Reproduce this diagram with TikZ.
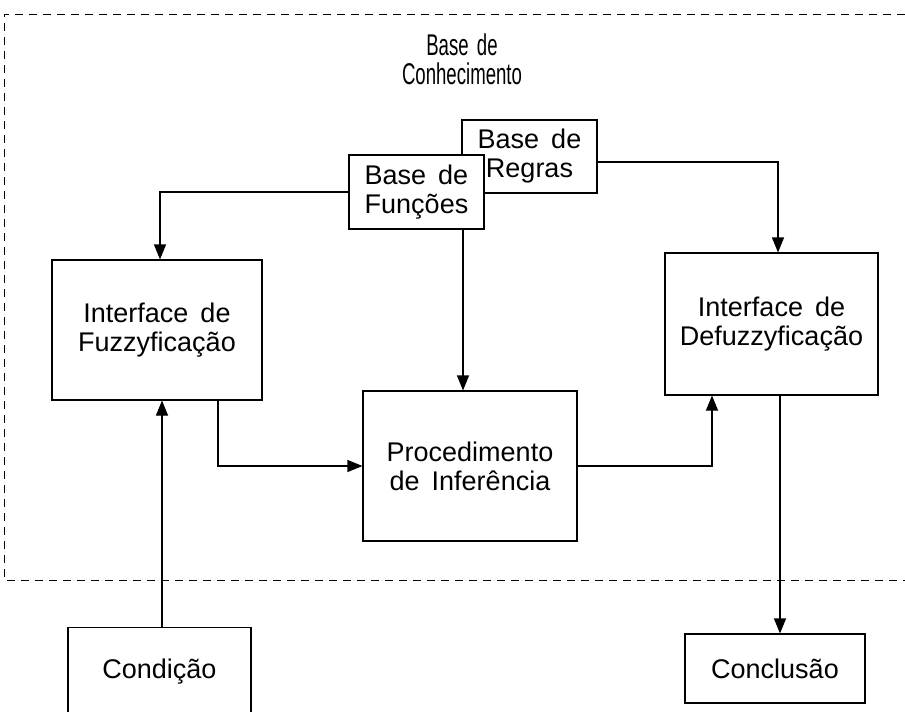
\documentclass[tikz,border=0pt]{standalone}
\usepackage{fontspec}
\usepackage{graphicx}
\setmainfont{Liberation Sans}[WordSpace=1.6]
\usetikzlibrary{arrows.meta}
\begin{document}
\begin{tikzpicture}[x=1pt,y=-1pt,
  box/.style={draw, line width=1.1pt, fill=white, inner sep=0pt, align=center,
              font=\fontsize{27}{29}\selectfont},
  conn/.style={line width=1.1pt, -{Triangle[length=15pt,width=12pt]}},
  frame/.style={line width=1pt, dash pattern=on 8pt off 6pt},
  titletext/.style={inner sep=0pt, font=\fontsize{30}{25}\selectfont}]
\useasboundingbox (0,0) rectangle (905,712);
% dashed frame of the knowledge base
\draw[frame] (905,14) -- (4,14) -- (4,580) -- (905,580);
% title
\node[titletext] (title) at (462,63)
  {\scalebox{0.62}[1]{\begin{tabular}{@{}c@{}}Base de\\Conhecimento\end{tabular}}};
% boxes
\node[box, minimum width=135pt, minimum height=73pt] (reg) at (529.5,156.5) {Base de\\Regras};
\node[box, minimum width=135pt, minimum height=74pt] (fun) at (416.5,192) {Base de\\Funções};
\node[box, minimum width=210pt, minimum height=140pt] (fuz) at (157,330) {Interface de\\Fuzzyficação};
\node[box, minimum width=213pt, minimum height=142pt] (def) at (771.5,324) {Interface de\\Defuzzyficação};
\node[box, minimum width=214pt, minimum height=150pt] (proc) at (470,466) {Procedimento\\de Inferência};
\node[box, anchor=north, minimum width=183pt, minimum height=88pt] (cond) at (159.5,627) {Condição};
\node[box, minimum width=180pt, minimum height=69pt] (conc) at (775,668.5) {Conclusão};
% connectors
\draw[conn] (fun.west) -| ([xshift=3pt]fuz.north);
\draw[conn] ([yshift=-5.5pt]reg.east) -| ([xshift=6.5pt]def.north);
\coordinate (pin) at ([xshift=-7pt]proc.north);
\draw[conn] (fun.south -| pin) -- (pin);
\draw[conn] ([xshift=61pt]fuz.south) |- (proc.west);
\draw[conn] (proc.east) -| ([xshift=-59.5pt]def.south);
\draw[conn] ([xshift=8.5pt]def.south) -- ([xshift=5pt]conc.north);
\draw[conn] ([xshift=2.5pt]cond.north) -- ([xshift=5pt]fuz.south);
\end{tikzpicture}
\end{document}
